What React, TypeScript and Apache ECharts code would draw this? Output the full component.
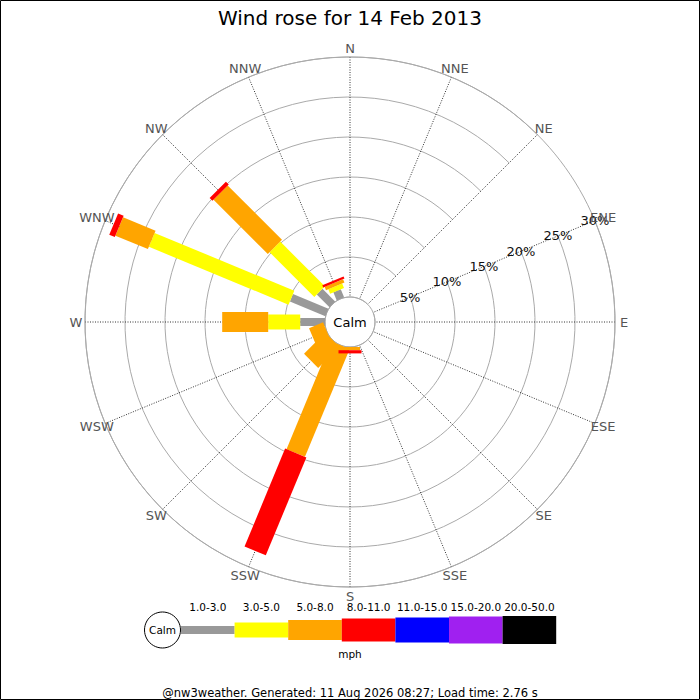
import { useEffect, useRef } from "react"
import * as echarts from "echarts"

const directions = ["N", "NNE", "NE", "ENE", "E", "ESE", "SE", "SSE", "S", "SSW", "SW", "WSW", "W", "WNW", "NW", "NNW"]
// angle axis starts at ENE so the % labels sit on the ENE spoke
const axisDirections = [...directions.slice(3), ...directions.slice(0, 3)]

const speedBands = ["1.0-3.0", "3.0-5.0", "5.0-8.0", "8.0-11.0", "11.0-15.0", "15.0-20.0", "20.0-50.0"]
const bandColors = ["#999999", "#ffff00", "#ffa500", "#ff0000", "#0000ff", "#a020f0", "#000000"]
const bandWidths = [8, 15, 20, 23, 25, 27, 28]

// % of the day per direction, N -> NNW
const band1 = [0, 0, 0, 0, 0, 0, 0, 0, 0, 0, 0, 0, 3.1, 4.8, 2.25, 1.1]
const band2 = [0, 0, 0, 0, 0, 0, 0, 0, 0, 0, 0, 0, 4.0, 18.9, 7.9, 0.6]
const band3 = [0, 0, 0, 0, 0, 0, 0, 0, 0.4, 14.6, 3.75, 1.9, 5.75, 4.4, 9.6, 0.45]
const band4 = [0, 0, 0, 0, 0, 0, 0, 0, 0.4, 13.25, 0, 0, 0, 0.75, 0.5, 0.3]
const band5 = [0, 0, 0, 0, 0, 0, 0, 0, 0, 0, 0, 0, 0, 0, 0, 0]
const band6 = [0, 0, 0, 0, 0, 0, 0, 0, 0, 0, 0, 0, 0, 0, 0, 0]
const band7 = [0, 0, 0, 0, 0, 0, 0, 0, 0, 0, 0, 0, 0, 0, 0, 0]

const title = "Wind rose for 14 Feb 2013"
const footer = "@nw3weather. Generated: 11 Aug 2026 08:27; Load time: 2.76 s"
const FONT = "DejaVu Sans"

// unit vector of a spoke, in pixels, from the polar scale
function spoke(api: any, a: number) {
  const c = api.coord([0, a])
  const o = api.coord([30, a])
  const len = Math.hypot(o[0] - c[0], o[1] - c[1])
  return { o, ux: (o[0] - c[0]) / len, uy: (o[1] - c[1]) / len }
}

export default function App() {
  const chartRef = useRef<HTMLDivElement>(null)

  useEffect(() => {
    if (!chartRef.current) return
    const chart = echarts.init(chartRef.current, null, { renderer: "svg" })

    const bands = [band1, band2, band3, band4, band5, band6, band7]
    const cum = directions.map(() => 0)
    const series: any[] = bands.map((vals, k) => {
      const data: number[][] = []
      directions.forEach((d, i) => {
        if (vals[i] > 0) {
          data.push([cum[i] + vals[i], axisDirections.indexOf(d), cum[i]])
          cum[i] += vals[i]
        }
      })
      return {
        type: "custom",
        name: speedBands[k],
        coordinateSystem: "polar",
        encode: { radius: 0, angle: 1 },
        data,
        renderItem: (_params: any, api: any) => {
          const r1 = api.value(0)
          const a = api.value(1)
          const r0 = api.value(2)
          const { ux, uy } = spoke(api, a)
          const hw = bandWidths[k] / 2
          const p0 = api.coord([r0, a])
          const p1 = api.coord([r1, a])
          return {
            type: "polygon",
            shape: {
              points: [
                [p0[0] - uy * hw, p0[1] + ux * hw],
                [p1[0] - uy * hw, p1[1] + ux * hw],
                [p1[0] + uy * hw, p1[1] - ux * hw],
                [p0[0] + uy * hw, p0[1] - ux * hw],
              ],
            },
            style: { fill: bandColors[k] },
          }
        },
      }
    })

    // compass labels, centred just outside the outer ring
    series.push({
      type: "custom",
      name: "directions",
      coordinateSystem: "polar",
      encode: { radius: 0, angle: 1 },
      silent: true,
      data: axisDirections.map((_d, i) => [30, i]),
      renderItem: (_params: any, api: any) => {
        const a = api.value(1)
        const { o, ux, uy } = spoke(api, a)
        return {
          type: "text",
          x: o[0] + ux * 9,
          y: o[1] + uy * 9,
          style: {
            text: axisDirections[a],
            fontSize: 13,
            fontFamily: FONT,
            fill: "#555",
            align: "center",
            verticalAlign: "middle",
          },
        }
      },
    })

    // custom key under the rose
    const keyX0 = 181
    const keyW = 53.6
    const keyY = 630
    const keyGraphics: any[] = [
      {
        type: "circle",
        shape: { cx: 162.5, cy: keyY, r: 18 },
        style: { fill: "#fff", stroke: "#000", lineWidth: 1 },
      },
      {
        type: "text",
        x: 162.5,
        y: keyY,
        style: { text: "Calm", fontSize: 10.5, fontFamily: FONT, fill: "#000", align: "center", verticalAlign: "middle" },
      },
    ]
    speedBands.forEach((label, k) => {
      keyGraphics.push({
        type: "rect",
        shape: { x: keyX0 + k * keyW, y: keyY - bandWidths[k] / 2, width: keyW, height: bandWidths[k] },
        style: { fill: bandColors[k] },
      })
      keyGraphics.push({
        type: "text",
        x: keyX0 + k * keyW + keyW / 2,
        y: 607,
        style: { text: label, fontSize: 10.5, fontFamily: FONT, fill: "#000", align: "center", verticalAlign: "middle" },
      })
    })

    chart.setOption({
      animation: false,
      backgroundColor: "#fff",
      title: {
        text: title,
        left: "center",
        top: 3,
        textStyle: { fontSize: 20, fontWeight: "normal", color: "#000", fontFamily: FONT },
      },
      polar: { center: [350, 322], radius: [25, 265] },
      angleAxis: {
        type: "category",
        data: axisDirections,
        startAngle: 22.5,
        clockwise: true,
        boundaryGap: false,
        axisLine: { show: true, lineStyle: { color: "#aaa", width: 1 } },
        axisTick: { show: false },
        axisLabel: { show: false },
        splitLine: { show: true, interval: 0, lineStyle: { color: "#333", width: 1, type: [1, 1.5] } },
      },
      radiusAxis: {
        type: "value",
        min: 0,
        max: 30,
        interval: 5,
        axisLine: { show: false },
        axisTick: { show: false },
        axisLabel: {
          showMinLabel: false,
          formatter: "{value}%",
          margin: 0,
          color: "#111",
          fontSize: 13,
          fontFamily: FONT,
          align: "center",
          verticalAlign: "middle",
        },
        splitLine: { show: true, lineStyle: { color: "#aaa", width: 1 } },
      },
      graphic: [
        {
          type: "rect",
          shape: { x: 0.5, y: 0.5, width: 699, height: 699 },
          style: { fill: "none", stroke: "#000", lineWidth: 1 },
          silent: true,
        },
        {
          type: "text",
          x: 350,
          y: 322,
          style: { text: "Calm", fontSize: 13, fontFamily: FONT, fill: "#000", align: "center", verticalAlign: "middle" },
        },
        ...keyGraphics,
        {
          type: "text",
          x: 350,
          y: 654,
          style: { text: "mph", fontSize: 10.5, fontFamily: FONT, fill: "#000", align: "center", verticalAlign: "middle" },
        },
        {
          type: "text",
          x: 350,
          y: 693,
          style: { text: footer, fontSize: 11.5, fontFamily: FONT, fill: "#000", align: "center", verticalAlign: "middle" },
        },
      ],
      series,
    })

    return () => {
      chart.dispose()
    }
  }, [])

  return (
    <div
      ref={chartRef}
      style={{ position: "absolute", left: 0, top: 0, width: 700, height: 700 }}
    />
  )
}
